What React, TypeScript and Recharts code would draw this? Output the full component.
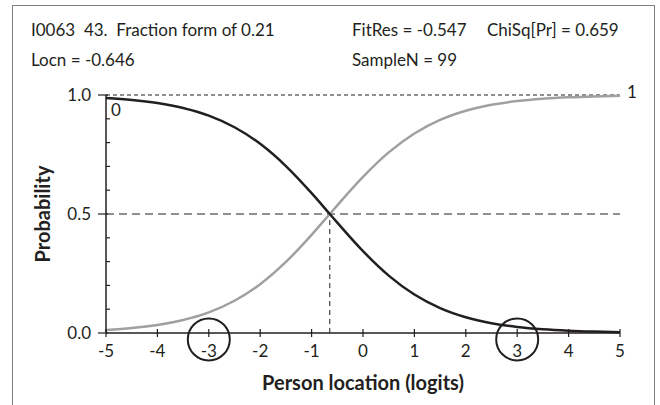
import React from 'react';
import {
  LineChart, Line, XAxis, YAxis, ReferenceLine, ReferenceDot, LabelList,
} from 'recharts';

const locations = [-5, -4.5, -4, -3.5, -3, -2.5, -2, -1.5, -1, -0.646, -0.5, 0, 0.5, 1, 1.5, 2, 2.5, 3, 3.5, 4, 4.5, 5];
const prob1 = [0.0127, 0.0207, 0.0338, 0.0545, 0.0867, 0.1354, 0.2052, 0.2986, 0.4124, 0.5, 0.5364, 0.6561, 0.7588, 0.8384, 0.8953, 0.9338, 0.9588, 0.9746, 0.9844, 0.9905, 0.9942, 0.9965];
const prob0 = [0.9873, 0.9793, 0.9662, 0.9455, 0.9133, 0.8646, 0.7948, 0.7014, 0.5876, 0.5, 0.4636, 0.3439, 0.2412, 0.1616, 0.1047, 0.0662, 0.0412, 0.0254, 0.0156, 0.0095, 0.0058, 0.0035];
const xTicks = [-5, -4, -3, -2, -1, 0, 1, 2, 3, 4, 5];
const yTicks = [0, 0.1, 0.2, 0.3, 0.4, 0.5, 0.6, 0.7, 0.8, 0.9, 1.0];
const yMajor = [0, 0.5, 1.0];
const locn = -0.646;
const circledLocations = [-3, 3];
const circleY = -0.027;

const data = locations.map((x, i) => ({ x, p0: prob0[i], p1: prob1[i] }));

const FONT = 'Lato, "Open Sans", sans-serif';
const TEXT = '#231f20';
const X_TICK_SIZE = 5;
const X_TICK_MARGIN = 8;
const Y_TICK_SIZE = 8;
const Y_TICK_MARGIN = 7;

const XTick = (props: any) => {
  const { x, y, payload } = props;
  const axisY = y - X_TICK_SIZE - X_TICK_MARGIN;
  return (
    <g>
      <line x1={x} x2={x} y1={axisY - 4} y2={axisY + 4} stroke={TEXT} strokeWidth={1.2} />
      <text x={x} y={y} dy={11} textAnchor="middle" fill={TEXT} fontSize={17} fontFamily={FONT}>
        {payload.value}
      </text>
    </g>
  );
};

const YTick = (props: any) => {
  const { x, y, payload } = props;
  const axisX = x + Y_TICK_SIZE + Y_TICK_MARGIN;
  const v = payload.value;
  const major = yMajor.some((m) => Math.abs(m - v) < 1e-6);
  if (major) {
    return (
      <g>
        <line x1={axisX - Y_TICK_SIZE} x2={axisX + 2} y1={y} y2={y} stroke={TEXT} strokeWidth={1.2} />
        <text x={x} y={y} dy={6} textAnchor="end" fill={TEXT} fontSize={17} fontFamily={FONT}>
          {v.toFixed(1)}
        </text>
      </g>
    );
  }
  return <line x1={axisX} x2={axisX + 4} y1={y} y2={y} stroke={TEXT} strokeWidth={1.2} />;
};

const Label0 = (props: any) => {
  const { x, y, index } = props;
  if (index !== 0) return null;
  return (
    <text x={x + 5} y={y + 18} fill={TEXT} fontSize={17} fontFamily={FONT}>0</text>
  );
};

const Label1 = (props: any) => {
  const { x, y, index } = props;
  if (index !== locations.length - 1) return null;
  return (
    <text x={x + 7} y={y + 2} fill={TEXT} fontSize={17} fontFamily={FONT}>1</text>
  );
};

const headerStyle: React.CSSProperties = {
  position: 'absolute', fontFamily: FONT, fontSize: 17, color: TEXT, whiteSpace: 'pre', lineHeight: '20px',
};

export default function App() {
  return (
    <div style={{ position: 'absolute', left: 0, top: 0, width: 660, height: 405, overflow: 'hidden', background: '#fff' }}>
      <div style={{ position: 'absolute', left: 12, top: 5, width: 641, height: 420, border: '1px solid #7f7f7f' }} />
      <div style={{ ...headerStyle, left: 31, top: 20 }}>I0063  43.  Fraction form of 0.21</div>
      <div style={{ ...headerStyle, left: 31, top: 50 }}>Locn = -0.646</div>
      <div style={{ ...headerStyle, left: 352, top: 20 }}>FitRes = -0.547</div>
      <div style={{ ...headerStyle, left: 487, top: 20 }}>ChiSq[Pr] = 0.659</div>
      <div style={{ ...headerStyle, left: 352, top: 50 }}>SampleN = 99</div>
      <div style={{ position: 'absolute', left: 0, top: 0 }}>
        <LineChart width={660} height={405} data={data} margin={{ top: 95, right: 40, bottom: 42, left: 46 }}>
          <XAxis
            dataKey="x"
            type="number"
            domain={[-5, 5]}
            ticks={xTicks}
            interval={0}
            axisLine={{ stroke: TEXT, strokeWidth: 1.5 }}
            tickLine={false}
            tickSize={X_TICK_SIZE}
            tickMargin={X_TICK_MARGIN}
            tick={<XTick />}
            height={30}
            label={{ value: 'Person location (logits)', position: 'insideBottom', offset: -27, fill: TEXT, fontSize: 20, fontWeight: 'bold', fontFamily: FONT }}
          />
          <YAxis
            type="number"
            domain={[0, 1]}
            ticks={yTicks}
            interval={0}
            width={60}
            axisLine={{ stroke: TEXT, strokeWidth: 1.5 }}
            tickLine={false}
            tickSize={Y_TICK_SIZE}
            tickMargin={Y_TICK_MARGIN}
            tick={<YTick />}
            label={{ value: 'Probability', angle: -90, position: 'insideLeft', offset: -3, fill: TEXT, fontSize: 20, fontWeight: 'bold', fontFamily: FONT, style: { textAnchor: 'middle' } }}
          />
          <ReferenceLine y={1} stroke={TEXT} strokeWidth={1} strokeDasharray="4 3" />
          <ReferenceLine y={0.5} stroke={TEXT} strokeWidth={1} strokeDasharray="8 5" />
          <ReferenceLine segment={[{ x: locn, y: 0 }, { x: locn, y: 0.5 }]} stroke={TEXT} strokeWidth={1} strokeDasharray="5 4" />
          <Line type="monotone" dataKey="p1" stroke="#a0a0a0" strokeWidth={2.5} dot={false} isAnimationActive={false}>
            <LabelList dataKey="p1" content={<Label1 />} />
          </Line>
          <Line type="monotone" dataKey="p0" stroke={TEXT} strokeWidth={2.5} dot={false} isAnimationActive={false}>
            <LabelList dataKey="p0" content={<Label0 />} />
          </Line>
          {circledLocations.map((cx) => (
            <ReferenceDot key={cx} x={cx} y={circleY} r={21} fill="none" stroke={TEXT} strokeWidth={2} ifOverflow="visible" />
          ))}
        </LineChart>
      </div>
    </div>
  );
}
